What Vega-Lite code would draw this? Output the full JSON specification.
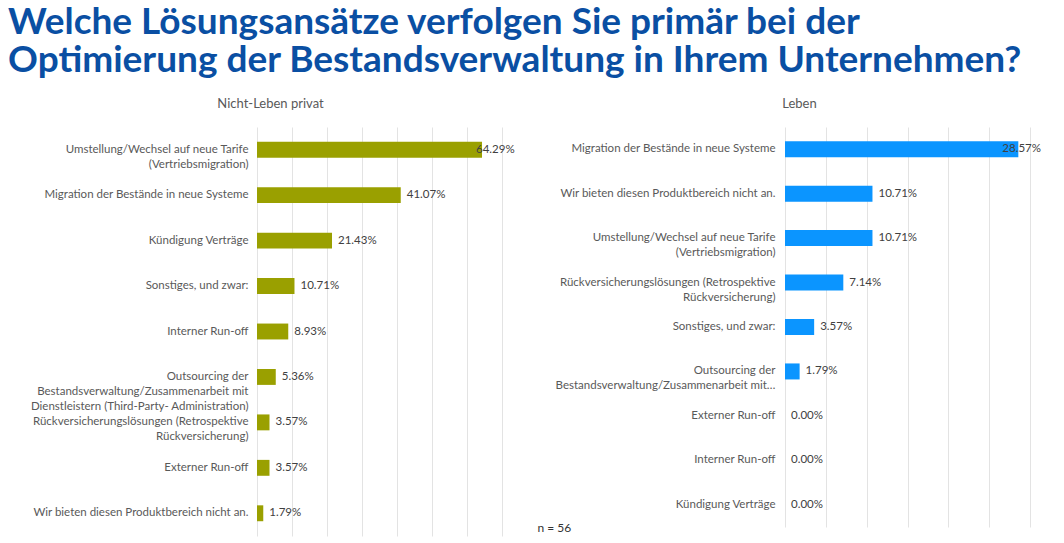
{
  "$schema": "https://vega.github.io/schema/vega-lite/v6.json",
  "background": "white",
  "padding": {"left": 8, "top": 4, "right": 5, "bottom": 2},
  "title": {
    "text": ["Welche Lösungsansätze verfolgen Sie primär bei der", "Optimierung der Bestandsverwaltung in Ihrem Unternehmen?"],
    "anchor": "start",
    "frame": "bounds",
    "dx": -22,
    "font": "Lato",
    "fontSize": 37,
    "fontWeight": "bold",
    "color": "#0a4fa3",
    "lineHeight": 38,
    "offset": 18
  },
  "config": {
    "view": {"stroke": null},
    "font": "Lato",
    "axis": {"labelFont": "Lato", "titleFont": "Lato"}
  },
  "datasets": {
    "rows": [
      {"panel": "Nicht-Leben privat", "rank": 1, "label": "Umstellung/Wechsel auf neue Tarife\n(Vertriebsmigration)", "value": 0.6429},
      {"panel": "Nicht-Leben privat", "rank": 2, "label": "Migration der Bestände in neue Systeme", "value": 0.4107},
      {"panel": "Nicht-Leben privat", "rank": 3, "label": "Kündigung Verträge", "value": 0.2143},
      {"panel": "Nicht-Leben privat", "rank": 4, "label": "Sonstiges, und zwar:", "value": 0.1071},
      {"panel": "Nicht-Leben privat", "rank": 5, "label": "Interner Run-off", "value": 0.0893},
      {"panel": "Nicht-Leben privat", "rank": 6, "label": "Outsourcing der\nBestandsverwaltung/Zusammenarbeit mit\nDienstleistern (Third-Party- Administration)", "value": 0.0536},
      {"panel": "Nicht-Leben privat", "rank": 7, "label": "Rückversicherungslösungen (Retrospektive\nRückversicherung)", "value": 0.0357},
      {"panel": "Nicht-Leben privat", "rank": 8, "label": "Externer Run-off", "value": 0.0357},
      {"panel": "Nicht-Leben privat", "rank": 9, "label": "Wir bieten diesen Produktbereich nicht an.", "value": 0.0179},
      {"panel": "Leben", "rank": 1, "label": "Migration der Bestände in neue Systeme", "value": 0.2857},
      {"panel": "Leben", "rank": 2, "label": "Wir bieten diesen Produktbereich nicht an.", "value": 0.1071},
      {"panel": "Leben", "rank": 3, "label": "Umstellung/Wechsel auf neue Tarife\n(Vertriebsmigration)", "value": 0.1071},
      {"panel": "Leben", "rank": 4, "label": "Rückversicherungslösungen (Retrospektive\nRückversicherung)", "value": 0.0714},
      {"panel": "Leben", "rank": 5, "label": "Sonstiges, und zwar:", "value": 0.0357},
      {"panel": "Leben", "rank": 6, "label": "Outsourcing der\nBestandsverwaltung/Zusammenarbeit mit…", "value": 0.0179},
      {"panel": "Leben", "rank": 7, "label": "Externer Run-off", "value": 0.0},
      {"panel": "Leben", "rank": 8, "label": "Interner Run-off", "value": 0.0},
      {"panel": "Leben", "rank": 9, "label": "Kündigung Verträge", "value": 0.0}
    ]
  },
  "data": {"name": "rows"},
  "bounds": "flush",
  "spacing": 283,
  "hconcat": [
    {
      "width": 245,
      "height": 409,
      "title": {"text": "Nicht-Leben privat", "font": "Lato", "fontSize": 13, "fontWeight": "normal", "color": "#595959", "offset": 16, "frame": "group", "anchor": "middle", "dx": -109},
      "transform": [{"filter": "datum.panel === 'Nicht-Leben privat'"}],
      "encoding": {
        "y": {
          "field": "label", "type": "nominal",
          "sort": ["Umstellung/Wechsel auf neue Tarife\n(Vertriebsmigration)", "Migration der Bestände in neue Systeme", "Kündigung Verträge", "Sonstiges, und zwar:", "Interner Run-off", "Outsourcing der\nBestandsverwaltung/Zusammenarbeit mit\nDienstleistern (Third-Party- Administration)", "Rückversicherungslösungen (Retrospektive\nRückversicherung)", "Externer Run-off", "Wir bieten diesen Produktbereich nicht an."],
          "scale": {"paddingInner": 0.65, "paddingOuter": 0.325},
          "axis": {"title": null, "domain": false, "ticks": false, "labelFontSize": 11.5, "labelColor": "#595959", "labelPadding": 9, "labelLimit": 400, "labelLineHeight": 15, "labelExpr": "split(datum.label, '\\n')"}
        },
        "x": {
          "field": "value", "type": "quantitative",
          "scale": {"domain": [0, 0.7]},
          "axis": {"title": null, "values": [0, 0.1, 0.2, 0.3, 0.4, 0.5, 0.6, 0.7], "labels": false, "ticks": false, "domain": false, "grid": true, "gridColor": "#e3e3e3"}
        }
      },
      "layer": [
        {"mark": {"type": "bar", "color": "#9aa000"}},
        {
          "transform": [{"filter": "datum.rank > 1"}],
          "mark": {"type": "text", "align": "left", "baseline": "middle", "dx": 6, "fontSize": 11.5, "color": "#404040"},
          "encoding": {"text": {"field": "value", "type": "quantitative", "format": ".2%"}}
        },
        {
          "transform": [{"filter": "datum.rank == 1"}],
          "mark": {"type": "text", "align": "left", "baseline": "middle", "dx": -6, "fontSize": 11.5, "color": "#404040"},
          "encoding": {"text": {"field": "value", "type": "quantitative", "format": ".2%"}}
        }
      ]
    },
    {
      "width": 245,
      "height": 400,
      "title": {"text": "Leben", "font": "Lato", "fontSize": 13, "fontWeight": "normal", "color": "#595959", "offset": 16, "frame": "group", "anchor": "middle", "dx": -108},
      "transform": [{"filter": "datum.panel === 'Leben'"}],
      "encoding": {
        "y": {
          "field": "label", "type": "nominal",
          "sort": ["Migration der Bestände in neue Systeme", "Wir bieten diesen Produktbereich nicht an.", "Umstellung/Wechsel auf neue Tarife\n(Vertriebsmigration)", "Rückversicherungslösungen (Retrospektive\nRückversicherung)", "Sonstiges, und zwar:", "Outsourcing der\nBestandsverwaltung/Zusammenarbeit mit…", "Externer Run-off", "Interner Run-off", "Kündigung Verträge"],
          "scale": {"paddingInner": 0.64, "paddingOuter": 0.32},
          "axis": {"title": null, "domain": false, "ticks": false, "labelFontSize": 11.5, "labelColor": "#595959", "labelPadding": 10, "labelLimit": 400, "labelLineHeight": 15, "labelExpr": "split(datum.label, '\\n')"}
        },
        "x": {
          "field": "value", "type": "quantitative",
          "scale": {"domain": [0, 0.3]},
          "axis": {"title": "n = 56", "titleAnchor": "start", "titleAlign": "left", "titleX": -248, "titleY": 4, "titleBaseline": "alphabetic", "titleFontSize": 12, "titleFontWeight": "normal", "titleColor": "#333333", "values": [0, 0.05, 0.1, 0.15, 0.2, 0.25, 0.3], "labels": false, "ticks": false, "domain": false, "grid": true, "gridColor": "#e3e3e3"}
        }
      },
      "layer": [
        {"mark": {"type": "bar", "color": "#0b95ff"}},
        {
          "transform": [{"filter": "datum.rank > 1"}],
          "mark": {"type": "text", "align": "left", "baseline": "middle", "dx": 6, "fontSize": 11.5, "color": "#404040"},
          "encoding": {"text": {"field": "value", "type": "quantitative", "format": ".2%"}}
        },
        {
          "transform": [{"filter": "datum.rank == 1"}],
          "mark": {"type": "text", "align": "left", "baseline": "middle", "dx": -16, "fontSize": 11.5, "color": "#404040"},
          "encoding": {"text": {"field": "value", "type": "quantitative", "format": ".2%"}}
        }
      ]
    }
  ]
}
